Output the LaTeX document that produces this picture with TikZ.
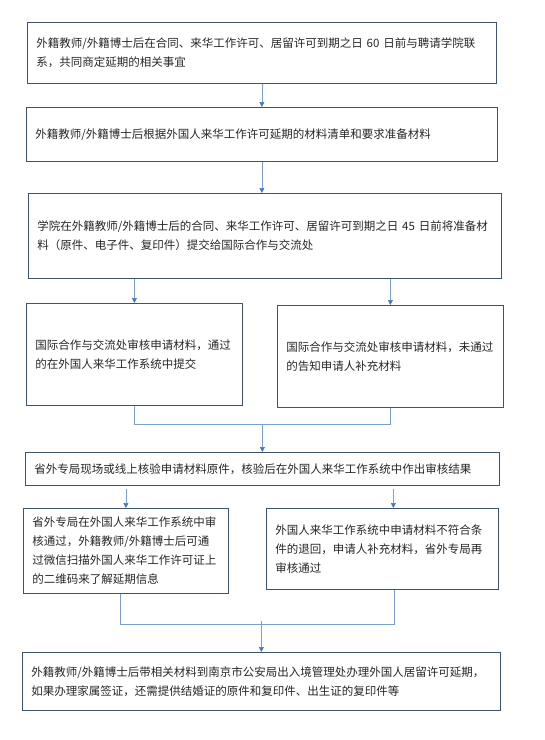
\documentclass[tikz,border=0pt]{standalone}
\usepackage{fontspec}
\newfontfamily\cjk{Noto Sans CJK SC}
\usetikzlibrary{arrows.meta}

\definecolor{boxline}{RGB}{62,84,108}
\definecolor{linkblue}{RGB}{122,160,208}
\definecolor{tipblue}{RGB}{72,122,190}
\definecolor{textgray}{RGB}{38,38,38}

\begin{document}
\begin{tikzpicture}[x=1pt, y=-1pt]
% ---------------------------------------------------------
% Styles
% ---------------------------------------------------------
\tikzset{
  box/.style={draw=boxline, line width=0.7pt, anchor=north west,
    inner sep=0pt, align=left, text=textgray,
    font=\cjk\fontsize{11.5}{19}\selectfont},
  link/.style={draw=linkblue, line width=0.7pt},
  flow/.style={link, -{Triangle[length=5pt, width=5pt, color=tipblue]}}
}

\useasboundingbox (0,0) rectangle (545,740);

% =========================================================
% 1) BOXES (top-left corner, width, height)
% =========================================================
\node[box, minimum width=469, minimum height=61, text width=451] (b1) at (27,22)
  {外籍教师/外籍博士后在合同、来华工作许可、居留许可到期之日 60 日前与聘请学院联\\系，共同商定延期的相关事宜};

\node[box, minimum width=471, minimum height=54, text width=453] (b2) at (26,107)
  {外籍教师/外籍博士后根据外国人来华工作许可延期的材料清单和要求准备材料};

\node[box, minimum width=473, minimum height=85, text width=455] (b3) at (28,193)
  {学院在外籍教师/外籍博士后的合同、来华工作许可、居留许可到期之日 45 日前将准备材\\料（原件、电子件、复印件）提交给国际合作与交流处};

\node[box, minimum width=216, minimum height=102, text width=198] (b4) at (26,303)
  {国际合作与交流处审核申请材料，通过\\的在外国人来华工作系统中提交};

\node[box, minimum width=226, minimum height=102, text width=208] (b5) at (277,305)
  {国际合作与交流处审核申请材料，未通过\\的告知申请人补充材料};

\node[box, minimum width=474, minimum height=33, text width=456] (b6) at (25,452)
  {省外专局现场或线上核验申请材料原件，核验后在外国人来华工作系统中作出审核结果};

\node[box, minimum width=205, minimum height=85, text width=187] (b7) at (23,508)
  {省外专局在外国人来华工作系统中审\\核通过，外籍教师/外籍博士后可通\\过微信扫描外国人来华工作许可证上\\的二维码来了解延期信息};

\node[box, minimum width=232, minimum height=81, text width=214] (b8) at (266,508)
  {外国人来华工作系统中申请材料不符合条\\件的退回，申请人补充材料，省外专局再\\审核通过};

\node[box, minimum width=478, minimum height=58, text width=460] (b9) at (22,652)
  {外籍教师/外籍博士后带相关材料到南京市公安局出入境管理处办理外国人居留许可延期，\\如果办理家属签证，还需提供结婚证的原件和复印件、出生证的复印件等};

% =========================================================
% 2) CONNECTORS
% =========================================================
\draw[flow] (b1.south) -- (b2.north);
\draw[flow] (b2.south) -- (b2.south |- b3.north);

% split to the two review boxes
\draw[flow] (b3.south -| b4.north) -- (b4.north);
\draw[flow] (b3.south -| b5.north) -- (b5.north);

% merge into the provincial check
\draw[link] (b4.south) -- ++(0,19) coordinate (j1) -| (b5.south);
\draw[flow] (j1 -| b6.north) -- (b6.north);

% split again
\draw[flow] ([yshift=-3]b6.south -| b7.north) -- (b7.north);
\draw[flow] ([yshift=-3]b6.south -| b8.north) ++(11,0) -- ([xshift=11]b8.north);

% merge into the final step
\draw[link] ([xshift=-6]b7.south) -- ++(0,31) coordinate (j2) -| ([xshift=12]b8.south);
\draw[flow] ([yshift=4]j2 -| b9.north) -- (b9.north);

\end{tikzpicture}
\end{document}
